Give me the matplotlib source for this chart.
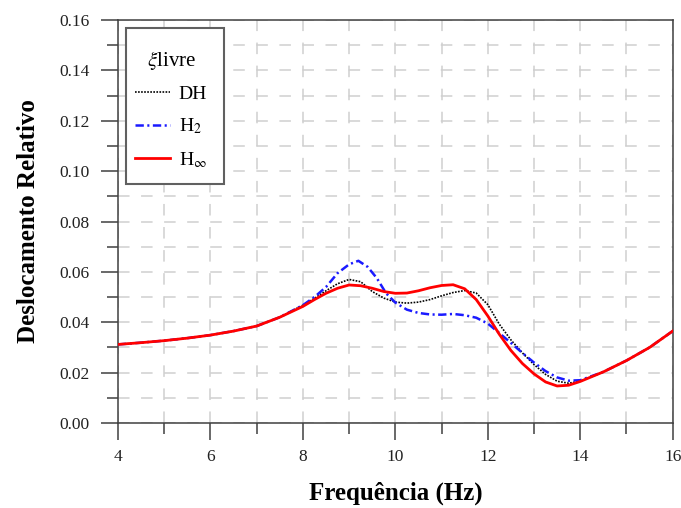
import matplotlib
matplotlib.use("Agg")
import matplotlib.pyplot as plt
from matplotlib.ticker import MultipleLocator, FormatStrFormatter
from matplotlib.patches import Rectangle

plt.rcParams['lines.scale_dashes'] = False
plt.rcParams['font.family'] = ['Liberation Serif', 'DejaVu Serif']
plt.rcParams['mathtext.fontset'] = 'stix'

# ---- data ----
freq_dh = [4, 4.5, 5, 5.5, 6, 6.5, 7, 7.5, 8, 8.25, 8.5, 8.75, 9, 9.25, 9.5, 9.75,
           10, 10.25, 10.5, 10.75, 11, 11.25, 11.5, 11.75, 12, 12.25, 12.5, 12.75,
           13, 13.25, 13.5, 13.75, 14, 14.5, 15, 15.5, 16]
dh = [0.0312, 0.0319, 0.0327, 0.0337, 0.0349, 0.0365, 0.0385, 0.0420, 0.0468, 0.0495,
      0.0525, 0.0553, 0.0570, 0.0561, 0.0522, 0.0496, 0.0480, 0.0476, 0.0480, 0.0490,
      0.0505, 0.0518, 0.0526, 0.0516, 0.0470, 0.0392, 0.0330, 0.0278, 0.0232, 0.0193,
      0.0166, 0.0158, 0.0166, 0.0203, 0.0248, 0.0300, 0.0365]

freq_h2 = [4, 4.5, 5, 5.5, 6, 6.5, 7, 7.5, 8, 8.25, 8.5, 8.75, 9, 9.2, 9.4, 9.6, 9.8,
           10, 10.25, 10.5, 10.75, 11, 11.25, 11.5, 11.75, 12, 12.25, 12.5, 12.75,
           13, 13.25, 13.5, 13.75, 14, 14.5, 15, 15.5, 16]
h2 = [0.0312, 0.0319, 0.0327, 0.0337, 0.0349, 0.0365, 0.0385, 0.0420, 0.0468, 0.0500,
      0.0540, 0.0595, 0.0630, 0.0644, 0.0620, 0.0575, 0.0515, 0.0478, 0.0450, 0.0437,
      0.0431, 0.0430, 0.0433, 0.0428, 0.0418, 0.0395, 0.0357, 0.0318, 0.0278, 0.0240,
      0.0206, 0.0181, 0.0168, 0.0170, 0.0203, 0.0248, 0.0300, 0.0365]

freq_hinf = [4, 4.5, 5, 5.5, 6, 6.5, 7, 7.5, 8, 8.25, 8.5, 8.75, 9, 9.25, 9.5, 9.75,
             10, 10.25, 10.5, 10.75, 11, 11.25, 11.5, 11.75, 12, 12.25, 12.5, 12.75,
             13, 13.25, 13.5, 13.75, 14, 14.5, 15, 15.5, 16]
hinf = [0.0312, 0.0319, 0.0327, 0.0337, 0.0349, 0.0365, 0.0385, 0.0420, 0.0463, 0.0490,
        0.0515, 0.0535, 0.0548, 0.0545, 0.0535, 0.0522, 0.0515, 0.0516, 0.0525, 0.0537,
        0.0546, 0.0549, 0.0533, 0.0490, 0.0425, 0.0352, 0.0288, 0.0236, 0.0195, 0.0163,
        0.0147, 0.0150, 0.0165, 0.0203, 0.0248, 0.0300, 0.0365]

labels = ['DH', r'H$_2$', r'H$_{\infty}$']
legend_title = r'$\xi$livre'
xlabel = 'Frequência (Hz)'
ylabel = 'Deslocamento Relativo'

# ---- figure ----
fig = plt.figure(figsize=(6.81, 5.08), dpi=100)
ax = fig.add_axes([0.1733, 0.1673, 0.8145, 0.7933])

ax.plot(freq_dh, dh, color='black', linestyle=(0, (1.2, 1.0)), lw=1.2, label=labels[0], zorder=3)
ax.plot(freq_h2, h2, color='#1a1aff', linestyle=(0, (6, 2.5, 1.5, 2.5)), lw=1.8, label=labels[1], zorder=4)
ax.plot(freq_hinf, hinf, color='#ff0000', linestyle='-', lw=2.0, label=labels[2], zorder=5)

ax.set_xlim(4, 16)
ax.set_ylim(0, 0.16)
ax.xaxis.set_major_locator(MultipleLocator(2))
ax.xaxis.set_minor_locator(MultipleLocator(1))
ax.yaxis.set_major_locator(MultipleLocator(0.02))
ax.yaxis.set_minor_locator(MultipleLocator(0.01))
ax.yaxis.set_major_formatter(FormatStrFormatter('%.2f'))

spine_c = '#404040'
for s in ax.spines.values():
    s.set_color(spine_c)
    s.set_linewidth(1.1)

ax.tick_params(which='major', direction='out', length=12.5, width=1.1, color=spine_c,
               labelsize=12.5, labelcolor='#222222', pad=6)
ax.tick_params(which='minor', direction='out', length=8, width=1.1, color=spine_c)
ax.tick_params(axis='y', which='major', pad=8)

ax.grid(which='both', color='#cfcfcf', linestyle=(0, (8.3, 8.3)), linewidth=1.1, zorder=0)
ax.set_axisbelow(True)

ax.set_xlabel(xlabel, fontsize=18, fontweight='bold', labelpad=12)
ax.set_ylabel(ylabel, fontsize=18, fontweight='bold', labelpad=14)

# legend box (frame drawn separately to get the taller padding of the original)
box = Rectangle((0.0144, 0.593), 0.1767, 0.387, transform=ax.transAxes,
                facecolor='white', edgecolor='#606060', linewidth=1.5, zorder=6)
ax.add_patch(box)

leg = ax.legend(loc='upper left', bbox_to_anchor=(0.0114, 0.955), title=legend_title,
                fontsize=14, title_fontsize=15, frameon=False,
                handlelength=1.8, handletextpad=0.45, labelspacing=0.7,
                borderpad=0.55, borderaxespad=0.0)
leg.set_zorder(7)

fig.savefig('out.png', dpi=100)
